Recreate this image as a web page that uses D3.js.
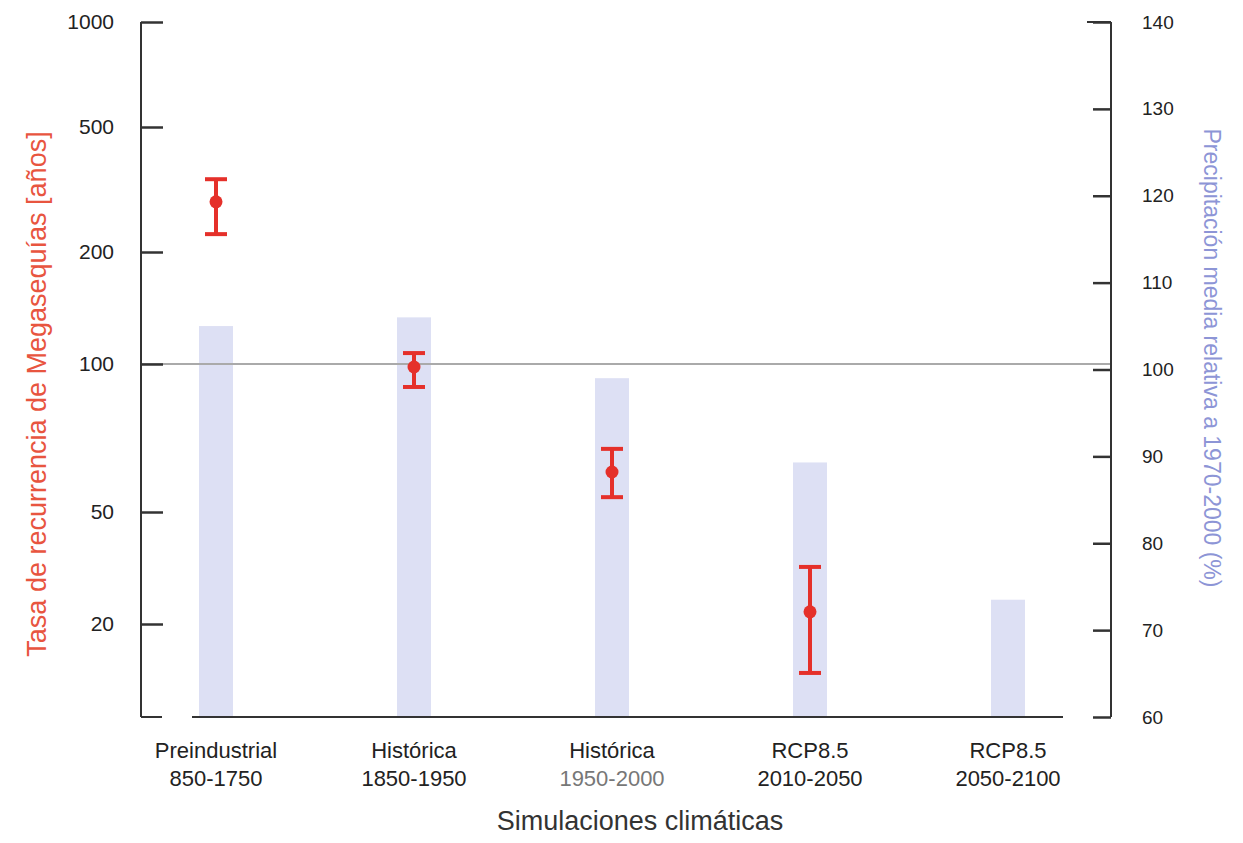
<!DOCTYPE html>
<html>
<head>
<meta charset="utf-8">
<script src="https://cdn.jsdelivr.net/npm/d3@7"></script>
<style>
  body { margin: 0; background: #fff; }
  text { font-family: "Liberation Sans", Arial, sans-serif; }
</style>
</head>
<body>
<div id="chart"></div>
<script>
// simulation periods (two-line labels)
let categories = ["Preindustrial|850-1750", "Histórica|1850-1950", "Histórica|1950-2000", "RCP8.5|2010-2050", "RCP8.5|2050-2100"];

// mean precipitation relative to 1970-2000 (%), right axis
let precip = [105, 106, 99, 89.3, 73.5];

// megadrought recurrence (years), left axis: central value, upper, lower
let recurrence = [289, 98.6, 60.3, 22.1, null];
let recurrenceHigh = [341, 107, 67.2, 31.9, null];
let recurrenceLow = [228, 89.8, 53.6, 13.4, null];

let leftTicks = [1000, 500, 200, 100, 50, 20];
let rightTicks = [60, 70, 80, 90, 100, 110, 120, 130, 140];

let W = 1243, H = 843;
let m = { top: 22, left: 141, right: 1111, bottom: 717 };

let svg = d3.select("#chart").append("svg")
    .attr("width", W).attr("height", H);

let x = d3.scalePoint()
    .domain(categories)
    .range([216, 1008]);

// the published left axis is not evenly logarithmic, so map each tick piecewise
let yLeft = d3.scaleLog()
    .domain(leftTicks)
    .range([22, 127, 252, 364, 512, 624]);

let yRight = d3.scaleLinear()
    .domain([60, 140])
    .range([m.bottom, m.top]);

let barW = 34;
let red = "#e5302a";
let axisColor = "#333";

// bars of precipitation
svg.append("g").selectAll("rect")
    .data(categories)
    .enter()
    .append("rect")
        .attr("x", (d) => x(d) - barW / 2)
        .attr("y", (d, i) => yRight(precip[i]))
        .attr("width", barW)
        .attr("height", (d, i) => yRight(60) - yRight(precip[i]))
        .style("fill", "#dde0f4");

// reference line at 100
svg.append("line")
    .attr("x1", m.left).attr("x2", m.right)
    .attr("y1", yLeft(100)).attr("y2", yLeft(100))
    .style("stroke", "#aaa").style("stroke-width", 2);

// left axis
let gl = svg.append("g")
    .attr("transform", "translate(" + m.left + ",0)")
    .call(d3.axisLeft(yLeft).tickValues(leftTicks).tickSize(-22).tickPadding(27).tickFormat(d3.format("d")));
gl.select(".domain").remove();
gl.selectAll(".tick line").style("stroke", axisColor).style("stroke-width", 2.5);
gl.selectAll(".tick text").style("font-size", "21px").style("fill", "#222");
svg.append("line")
    .attr("x1", m.left).attr("x2", m.left)
    .attr("y1", m.top).attr("y2", m.bottom)
    .style("stroke", axisColor).style("stroke-width", 2);
svg.append("line")
    .attr("x1", m.left).attr("x2", m.left + 21)
    .attr("y1", m.bottom).attr("y2", m.bottom)
    .style("stroke", axisColor).style("stroke-width", 2);

// right axis
let gr = svg.append("g")
    .attr("transform", "translate(" + m.right + ",0)")
    .call(d3.axisRight(yRight).tickValues(rightTicks).tickSize(-18).tickPadding(31));
gr.select(".domain").remove();
gr.selectAll(".tick line").style("stroke", axisColor).style("stroke-width", 2.5);
gr.selectAll(".tick text").style("font-size", "19px").style("fill", "#222");
svg.append("line")
    .attr("x1", m.right).attr("x2", m.right)
    .attr("y1", m.top).attr("y2", m.bottom)
    .style("stroke", axisColor).style("stroke-width", 2);
svg.append("line")
    .attr("x1", m.right - 24).attr("x2", m.right)
    .attr("y1", m.top).attr("y2", m.top)
    .style("stroke", axisColor).style("stroke-width", 2);

// bottom axis line (detached from the corners)
svg.append("line")
    .attr("x1", 192).attr("x2", 1063)
    .attr("y1", m.bottom).attr("y2", m.bottom)
    .style("stroke", axisColor).style("stroke-width", 2);

// category labels
let labels = svg.append("g").selectAll("text")
    .data(categories)
    .enter()
    .append("text")
        .attr("x", (d) => x(d))
        .attr("y", 758)
        .attr("text-anchor", "middle")
        .style("font-size", "22px")
        .style("fill", "#222");
labels.append("tspan")
    .attr("x", (d) => x(d))
    .text((d) => d.split("|")[0]);
labels.append("tspan")
    .attr("x", (d) => x(d))
    .attr("dy", 28)
    .style("fill", (d, i) => i === 2 ? "#777" : "#222")
    .text((d) => d.split("|")[1]);

// error bars of recurrence
let errData = categories.map((c, i) => ({ c: c, v: recurrence[i], hi: recurrenceHigh[i], lo: recurrenceLow[i] }))
    .filter((d) => d.v !== null);

let eg = svg.append("g").selectAll("g")
    .data(errData)
    .enter()
    .append("g");
eg.append("line")
    .attr("x1", (d) => x(d.c)).attr("x2", (d) => x(d.c))
    .attr("y1", (d) => yLeft(d.hi)).attr("y2", (d) => yLeft(d.lo))
    .style("stroke", red).style("stroke-width", 4);
eg.append("line")
    .attr("x1", (d) => x(d.c) - 11).attr("x2", (d) => x(d.c) + 11)
    .attr("y1", (d) => yLeft(d.hi)).attr("y2", (d) => yLeft(d.hi))
    .style("stroke", red).style("stroke-width", 4);
eg.append("line")
    .attr("x1", (d) => x(d.c) - 11).attr("x2", (d) => x(d.c) + 11)
    .attr("y1", (d) => yLeft(d.lo)).attr("y2", (d) => yLeft(d.lo))
    .style("stroke", red).style("stroke-width", 4);
eg.append("circle")
    .attr("cx", (d) => x(d.c))
    .attr("cy", (d) => yLeft(d.v))
    .attr("r", 6.5)
    .style("fill", red);

// axis titles
svg.append("text")
    .attr("transform", "translate(46," + 394 + ") rotate(-90)")
    .attr("text-anchor", "middle")
    .style("font-size", "27px")
    .style("fill", "#e8553f")
    .text("Tasa de recurrencia de Megasequías [años]");

svg.append("text")
    .attr("transform", "translate(1204," + 358 + ") rotate(90)")
    .attr("text-anchor", "middle")
    .style("font-size", "23px")
    .style("fill", "#8d95d6")
    .text("Precipitación media relativa a 1970-2000 (%)");

svg.append("text")
    .attr("x", 640).attr("y", 830)
    .attr("text-anchor", "middle")
    .style("font-size", "27px")
    .style("fill", "#333")
    .text("Simulaciones climáticas");
</script>
</body>
</html>
